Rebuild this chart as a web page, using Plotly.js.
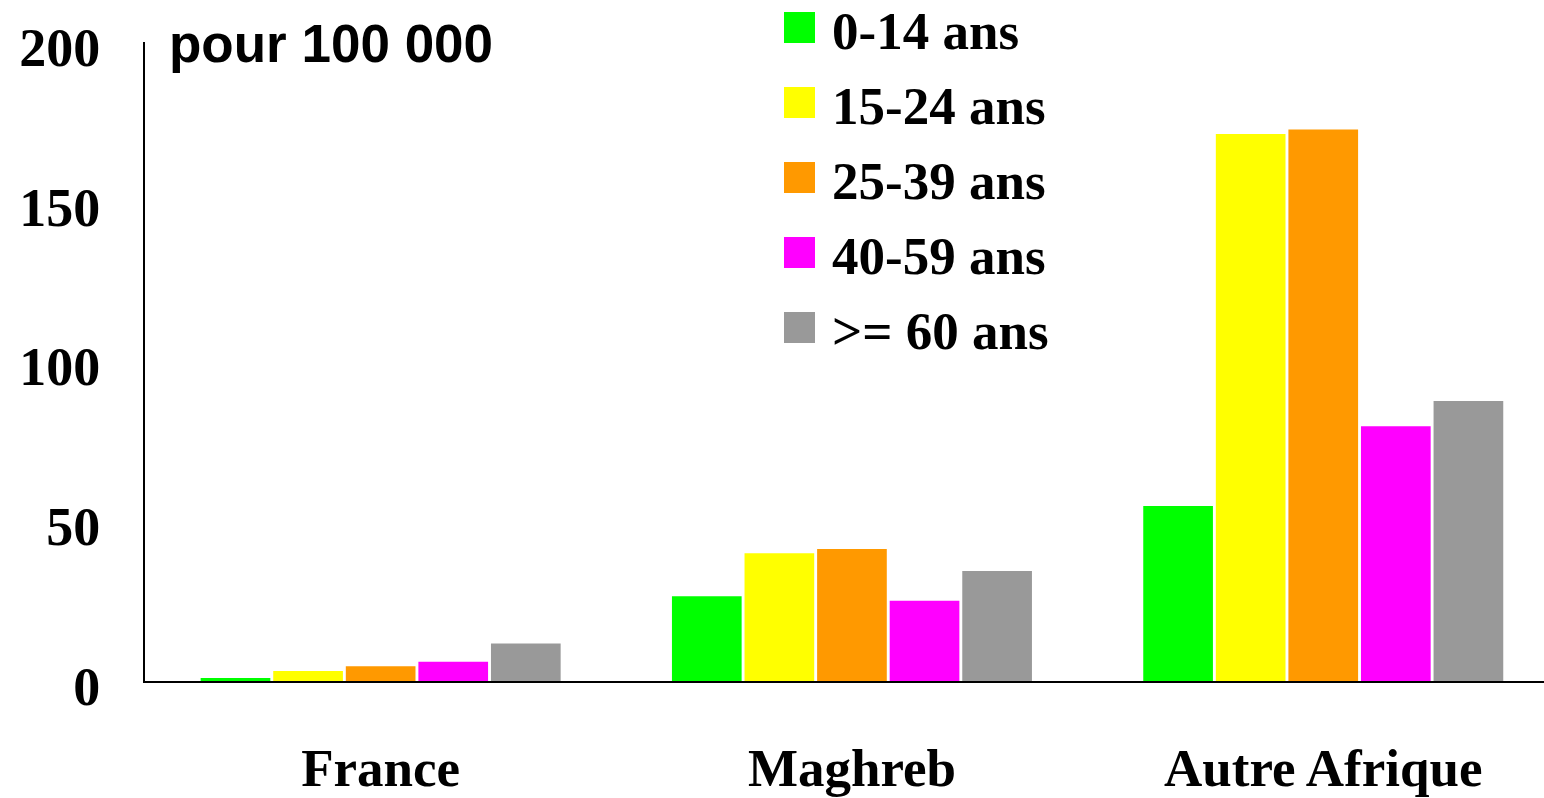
<!DOCTYPE html>
<html>
<head>
<meta charset="utf-8">
<script src="https://cdn.plot.ly/plotly-3.0.1.min.js"></script>
<style>html,body{margin:0;padding:0;background:#fff;}#chart{width:1544px;height:798px;}</style>
</head>
<body>
<div id="chart"></div>
<script>
// Data
const categories = ["France", "Maghreb", "Autre Afrique"];
const seriesNames = ["0-14 ans", "15-24 ans", "25-39 ans", "40-59 ans", ">= 60 ans"];
const seriesColors = ["#00ff00", "#ffff00", "#ff9900", "#ff00ff", "#999999"];
const age0_14 = [0.9, 26.5, 54.8];
const age15_24 = [3.1, 40.0, 171.2];
const age25_39 = [4.6, 41.3, 172.6];
const age40_59 = [6.0, 25.1, 79.7];
const age60plus = [11.7, 34.4, 87.6];
const seriesValues = [age0_14, age15_24, age25_39, age40_59, age60plus];
const yTicks = [0, 50, 100, 150, 200];
const unitLabel = "pour 100 000";

const W = 1544, H = 798;
const L = 145, R = 0, T = 42, B = 117;
const pw = W - L - R, ph = H - T - B;
const px = x => (x - L) / pw;
const py = y => (H - B - y) / ph;

const traces = seriesNames.map((n, i) => ({
  type: "bar",
  name: n,
  x: categories,
  y: seriesValues[i],
  marker: {color: seriesColors[i], line: {width: 0}},
  showlegend: false,
  hoverinfo: "x+y+name"
}));

const shapes = [];
const annotations = [];
seriesNames.forEach((n, i) => {
  const top = 12 + i * 75;
  shapes.push({type: "rect", xref: "paper", yref: "paper",
    x0: px(784), x1: px(815), y0: py(top), y1: py(top + 31),
    fillcolor: seriesColors[i], line: {width: 0}});
  annotations.push({xref: "paper", yref: "paper", x: px(830), y: py(top + 19),
    xanchor: "left", yanchor: "middle", showarrow: false, text: n,
    font: {family: "Liberation Serif", size: 53, color: "#000", weight: "bold"}});
});
annotations.push({xref: "paper", yref: "paper", x: px(167), y: py(12),
  xanchor: "left", yanchor: "top", showarrow: false, text: unitLabel,
  font: {family: "Liberation Sans", size: 53, color: "#000", weight: "bold"}});

const layout = {
  width: W, height: H,
  margin: {l: L, r: R, t: T, b: B, pad: 0},
  paper_bgcolor: "#fff", plot_bgcolor: "#fff",
  barmode: "group",
  bargap: 0.23,
  bargroupgap: 0.04,
  showlegend: false,
  xaxis: {
    type: "category",
    range: [-0.5, -0.5 + pw / 471.3],
    showline: true, linecolor: "#000", linewidth: 2,
    showgrid: false, zeroline: false,
    ticks: "", ticklabelstandoff: 39,
    tickfont: {family: "Liberation Serif", size: 53, color: "#000", weight: "bold"}
  },
  yaxis: {
    range: [0, 200],
    tickvals: yTicks,
    ticktext: yTicks.map(String),
    showline: true, linecolor: "#000", linewidth: 2,
    showgrid: false, zeroline: false,
    ticks: "", ticklabelstandoff: 32, ticklabelshift: 5,
    tickfont: {family: "Liberation Serif", size: 54, color: "#000", weight: "bold"}
  },
  shapes: shapes,
  annotations: annotations,
  font: {family: "Liberation Serif"}
};

Plotly.newPlot("chart", traces, layout, {staticPlot: true, displayModeBar: false});
</script>
</body>
</html>
